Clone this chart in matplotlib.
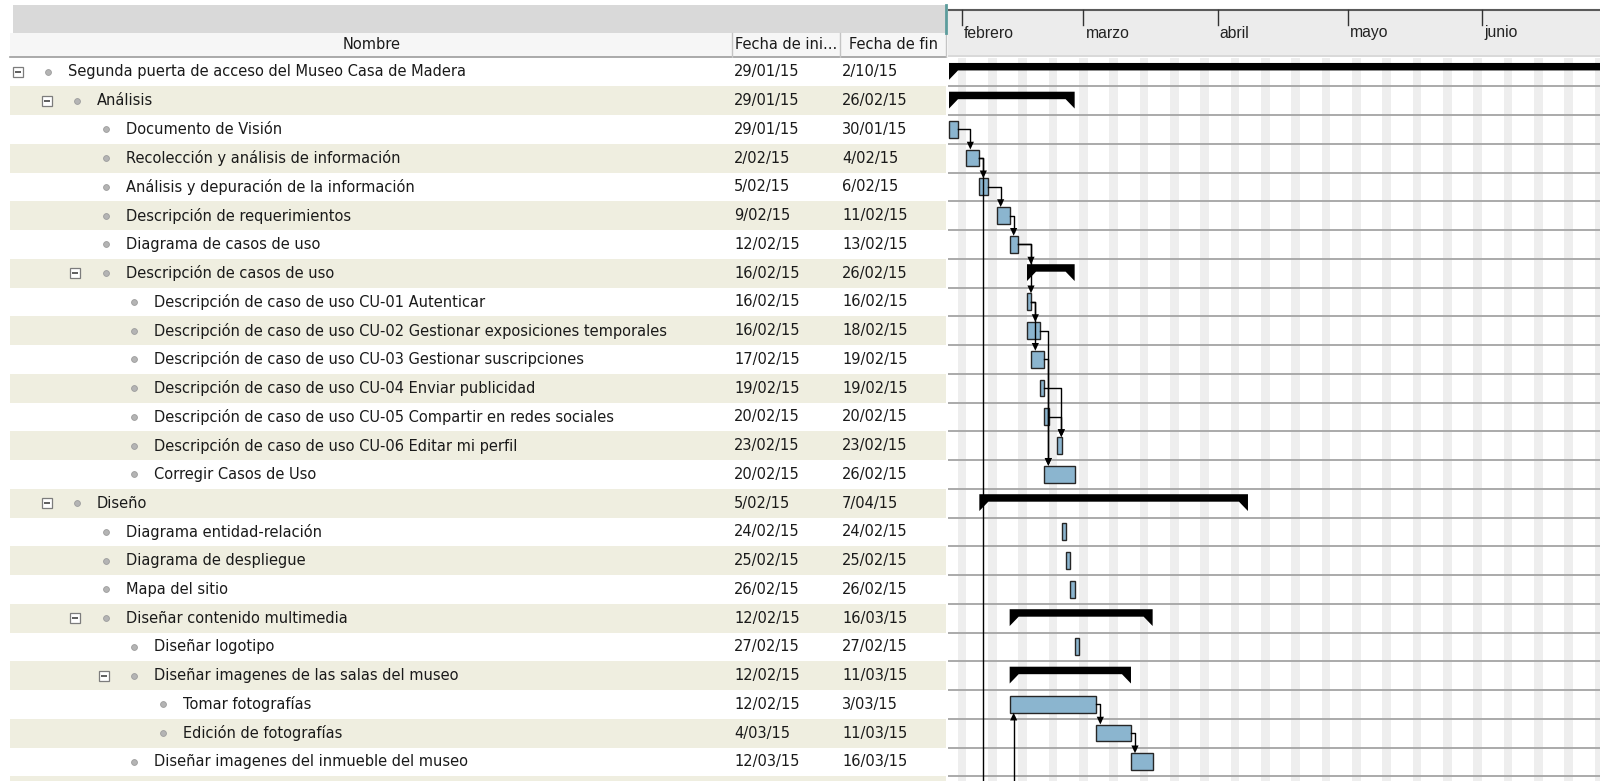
import datetime as dt
import matplotlib
matplotlib.use("Agg")
import matplotlib.pyplot as plt
import matplotlib.dates as mdates
from matplotlib.patches import Rectangle, Polygon

# ---- data -------------------------------------------------------------
names = [
    "Segunda puerta de acceso del Museo Casa de Madera",
    "Análisis",
    "Documento de Visión",
    "Recolección y análisis de información",
    "Análisis y depuración de la información",
    "Descripción de requerimientos",
    "Diagrama de casos de uso",
    "Descripción de casos de uso",
    "Descripción de caso de uso CU-01 Autenticar",
    "Descripción de caso de uso CU-02 Gestionar exposiciones temporales",
    "Descripción de caso de uso CU-03 Gestionar suscripciones",
    "Descripción de caso de uso CU-04 Enviar publicidad",
    "Descripción de caso de uso CU-05 Compartir en redes sociales",
    "Descripción de caso de uso CU-06 Editar mi perfil",
    "Corregir Casos de Uso",
    "Diseño",
    "Diagrama entidad-relación",
    "Diagrama de despliegue",
    "Mapa del sitio",
    "Diseñar contenido multimedia",
    "Diseñar logotipo",
    "Diseñar imagenes de las salas del museo",
    "Tomar fotografías",
    "Edición de fotografías",
    "Diseñar imagenes del inmueble del museo",
]
levels = [0, 1, 2, 2, 2, 2, 2, 2, 3, 3, 3, 3, 3, 3, 3, 1, 2, 2, 2, 2, 3, 3, 4, 4, 3]
start_dates = ["29/01/15", "29/01/15", "29/01/15", "2/02/15", "5/02/15", "9/02/15",
               "12/02/15", "16/02/15", "16/02/15", "16/02/15", "17/02/15", "19/02/15",
               "20/02/15", "23/02/15", "20/02/15", "5/02/15", "24/02/15", "25/02/15",
               "26/02/15", "12/02/15", "27/02/15", "12/02/15", "12/02/15", "4/03/15",
               "12/03/15"]
end_dates = ["2/10/15", "26/02/15", "30/01/15", "4/02/15", "6/02/15", "11/02/15",
             "13/02/15", "26/02/15", "16/02/15", "18/02/15", "19/02/15", "19/02/15",
             "20/02/15", "23/02/15", "26/02/15", "7/04/15", "24/02/15", "25/02/15",
             "26/02/15", "16/03/15", "27/02/15", "11/03/15", "3/03/15", "11/03/15",
             "16/03/15"]
summary_rows = [0, 1, 7, 15, 19, 21]
links = [(2, 3), (3, 4), (4, 5), (5, 6), (6, 7), (6, 8), (8, 9), (8, 10), (9, 14),
         (10, 14), (11, 13), (12, 13), (22, 23), (23, 24)]
links_out_below = [3]    # links leaving towards tasks under the visible rows
links_in_below = [22]    # links arriving from tasks under the visible rows
month_names = ["febrero", "marzo", "abril", "mayo", "junio"]
month_starts = ["1/02/15", "1/03/15", "1/04/15", "1/05/15", "1/06/15"]

col_nombre = "Nombre"
col_inicio = "Fecha de ini..."
col_fin = "Fecha de fin"

# ---- layout -------------------------------------------------------------
W, H = 1600, 781
TOP = 57.5          # pixel where task rows begin
ROW = 28.75         # row height in pixels
CHART_X = 948       # pixel where the gantt area begins
PX_DAY = 4.333      # pixels per day
n_vis = (H - TOP) / ROW

def d(s):
    return mdates.date2num(dt.datetime.strptime(s, "%d/%m/%y"))

starts = [d(s) for s in start_dates]
ends = [d(s) + 1 for s in end_dates]
x0 = d(start_dates[0]) - 1.0 / PX_DAY
x1 = x0 + (W - CHART_X) / PX_DAY

fig = plt.figure(figsize=(16, 7.81), dpi=100)
fig.patch.set_facecolor("white")

# table
ax_t = fig.add_axes([0, 0, CHART_X / W, (H - TOP) / H])
ax_t.set_xlim(0, CHART_X)
ax_t.set_ylim(n_vis, 0)
ax_t.axis("off")

# gantt
ax_g = fig.add_axes([CHART_X / W, 0, 1 - CHART_X / W, (H - TOP) / H])
ax_g.set_xlim(x0, x1)
ax_g.set_ylim(n_vis, 0)
ax_g.axis("off")

# headers
ax_h = fig.add_axes([0, (H - TOP) / H, 1, TOP / H])
ax_h.set_xlim(0, W)
ax_h.set_ylim(TOP, 0)
ax_h.axis("off")
ax_mh = fig.add_axes([CHART_X / W, (H - TOP) / H, 1 - CHART_X / W, TOP / H])
ax_mh.set_xlim(x0, x1)
ax_mh.set_ylim(TOP, 0)
ax_mh.axis("off")

txt_color = "#1a1a1a"
beige = "#efeee0"
font = "DejaVu Sans"
fs = 10.5

# ---- table header ----
ax_h.add_patch(Rectangle((12.5, 5), 933.5, 28, color="#d9d9d9", lw=0))
ax_h.add_patch(Rectangle((10, 33), 936, 24, color="#f6f6f6", lw=0))
ax_h.plot([10, 946], [56.8, 56.8], color="#9c9c9c", lw=1.2)
for xs in [732, 840, 946]:
    ax_h.plot([xs, xs], [33, 56.5], color="#c4c4c4", lw=1)
ax_h.plot([946, 946], [5, 33], color="#5c9c9c", lw=2)
ax_h.text(372, 44.5, col_nombre, ha="center", va="center", fontsize=fs,
          family=font, color=txt_color)
ax_h.text(735, 44.5, col_inicio, ha="left", va="center", fontsize=fs,
          family=font, color=txt_color)
ax_h.text(849, 44.5, col_fin, ha="left", va="center", fontsize=fs,
          family=font, color=txt_color)

# ---- chart header with months ----
ax_mh.axhspan(10, 55, color="#ececec", lw=0)
ax_mh.axhline(10, color="#5a5a5a", lw=1.5)
ax_mh.axhline(56, color="#d2d2d2", lw=1.2)
for name, ms in zip(month_names, month_starts):
    xm = d(ms)
    ax_mh.plot([xm, xm], [10, 25], color="#333333", lw=1)
    ax_mh.text(xm + 0.5, 33, name, ha="left", va="center", fontsize=11.3,
               family="Liberation Sans", color="#222222")

# ---- table rows ----
for k in range(int(n_vis) + 1):
    if k % 2 == 1:
        ax_t.add_patch(Rectangle((10, k), 936, 1, color=beige, lw=0))

for k, (nm, lv) in enumerate(zip(names, levels)):
    xt = 68.4 + 28.7 * lv
    yc = k + 0.5
    ax_t.plot(xt - 20.3, yc, "o", ms=4.2, mfc="#b4b4b4", mec="#9c9c9c", mew=0.6)
    if k in summary_rows:
        ax_t.plot(xt - 50.6, yc, "s", ms=6.6, mfc="white", mec="#7c7c7c", mew=0.9)
        ax_t.plot(xt - 50.6, yc, "_", ms=4.2, mec="#333333", mew=1.1)
    ax_t.text(xt, yc, nm, ha="left", va="center", fontsize=fs, family=font,
              color=txt_color)
    ax_t.text(734, yc, start_dates[k], ha="left", va="center", fontsize=fs,
              family=font, color=txt_color)
    ax_t.text(842, yc, end_dates[k], ha="left", va="center", fontsize=fs,
              family=font, color=txt_color)

# ---- gantt background ----
day = int(x0)
while day < x1:
    if mdates.num2date(day).weekday() == 5:
        ax_g.axvspan(day, day + 2, color="#eeeeee", lw=0, zorder=0)
    day += 1
for k in range(1, int(n_vis) + 1):
    ax_g.axhline(k, color="#a4a4a4", lw=1.3, zorder=1)

# ---- bars ----
bar_top, bar_h = 0.2, 0.59
s_top, s_mid, s_tip = 0.19, 0.45, 0.775
s_w = 9 / PX_DAY
for k in range(len(names)):
    s, e = starts[k], ends[k]
    if k in summary_rows:
        pts = [(s, k + s_top), (e, k + s_top), (e, k + s_tip), (e - s_w, k + s_mid),
               (s + s_w, k + s_mid), (s, k + s_tip)]
        ax_g.add_patch(Polygon(pts, closed=True, color="black", lw=0, zorder=2))
    else:
        ax_g.add_patch(Rectangle((s, k + bar_top), e - s, bar_h, fc="#8bb5cf",
                                 ec="#262626", lw=1, zorder=2))

# ---- dependency links ----
off = 4 / PX_DAY
aw = 3.6 / PX_DAY
ah = 0.27

def arrow_down(x, y):
    ax_g.add_patch(Polygon([(x - aw, y - ah), (x + aw, y - ah), (x, y)], closed=True,
                           color="black", lw=0, zorder=4))

def arrow_up(x, y):
    ax_g.add_patch(Polygon([(x - aw, y + ah), (x + aw, y + ah), (x, y)], closed=True,
                           color="black", lw=0, zorder=4))

for p, q in links:
    xe = ends[p]
    vx = max(xe, starts[q]) + off
    yp = p + 0.5
    yq = q + bar_top
    ax_g.plot([xe, vx, vx], [yp, yp, yq - ah * 0.5], color="black", lw=1, zorder=3)
    arrow_down(vx, yq)

for p in links_out_below:
    xe = ends[p]
    vx = xe + off
    ax_g.plot([xe, vx, vx], [p + 0.5, p + 0.5, n_vis + 1], color="black", lw=1, zorder=3)

for q in links_in_below:
    vx = starts[q] + off
    yq = q + bar_top + bar_h
    ax_g.plot([vx, vx], [n_vis + 1, yq + ah * 0.5], color="black", lw=1, zorder=3)
    arrow_up(vx, yq)

fig.savefig("out.png", dpi=100)
